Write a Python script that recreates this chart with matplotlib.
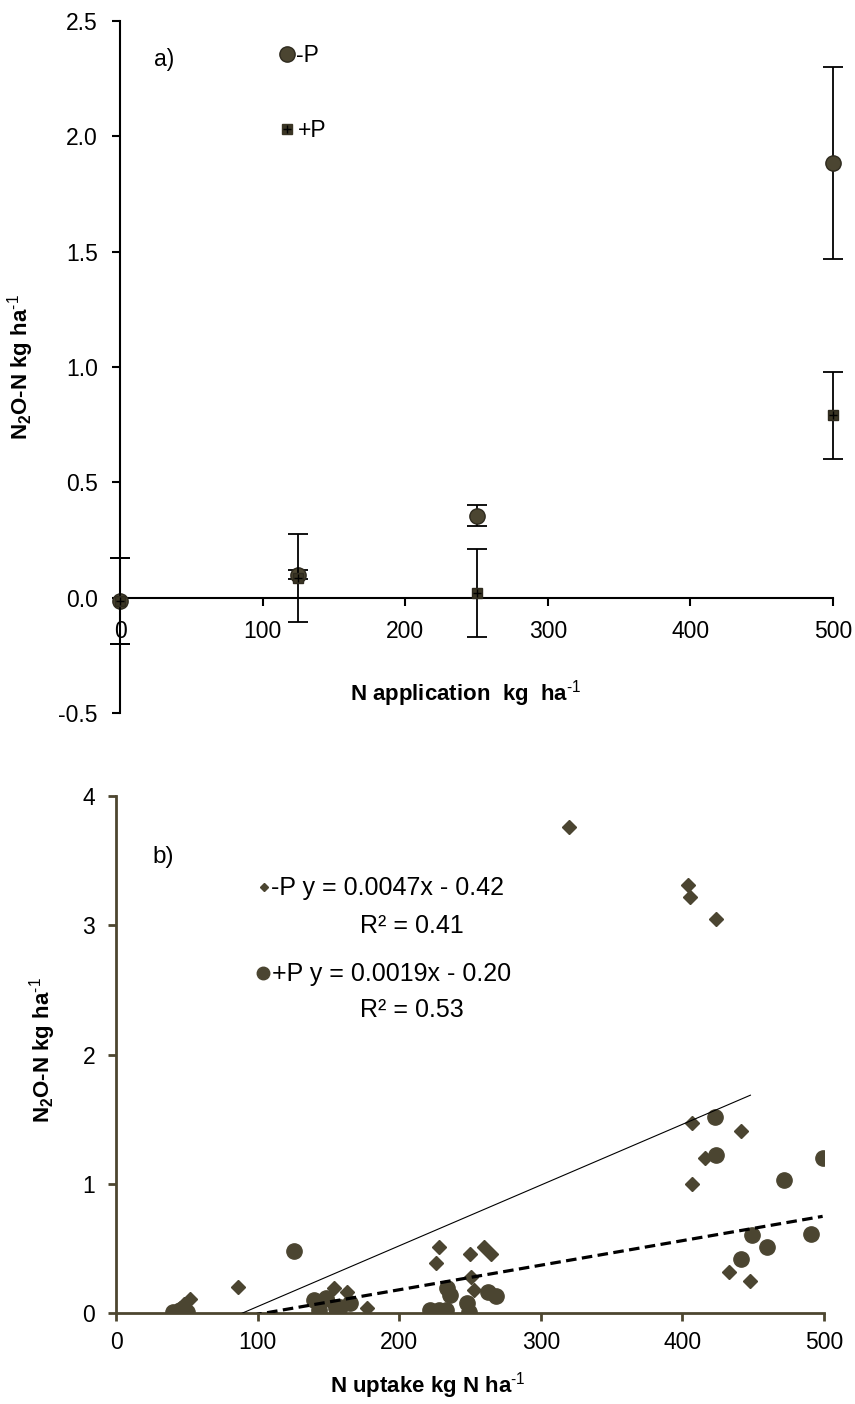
import numpy as np
import matplotlib
matplotlib.use('Agg')
from matplotlib import pyplot as plt

plt.rcParams['font.family'] = ['Liberation Sans', 'DejaVu Sans']
plt.rcParams['mathtext.fontset'] = 'custom'
plt.rcParams['mathtext.rm'] = 'Liberation Sans'
plt.rcParams['mathtext.default'] = 'regular'
plt.rcParams['axes.unicode_minus'] = False

# a) N application vs N2O-N, means and error bars
n_rate = [0, 125, 250, 500]
minusP_mean = [-0.015, 0.10, 0.355, 1.885]
minusP_err = [0.185, 0.02, 0.045, 0.415]
plusP_mean = [-0.015, 0.085, 0.02, 0.79]
plusP_err = [0.185, 0.19, 0.19, 0.19]

# b) N uptake vs N2O-N, individual plots
minusP_x = [42, 45, 48, 52, 86, 150, 154, 165, 163, 177, 226, 228, 250, 251, 253, 260, 265,
            320, 404, 405, 407, 407, 416, 424, 433, 441, 448]
minusP_y = [0.01, 0.04, 0.07, 0.11, 0.20, 0.10, 0.19, 0.08, 0.16, 0.04, 0.39, 0.51, 0.46, 0.28, 0.18, 0.51, 0.46,
            3.76, 3.31, 3.22, 1.47, 1.00, 1.20, 3.05, 0.32, 1.41, 0.25]
plusP_x = [40, 45, 50, 126, 140, 143, 148, 155, 158, 165, 222, 228, 233, 234, 236, 248, 249, 263, 268,
           423, 424, 441, 449, 460, 472, 491, 499]
plusP_y = [0.01, 0.02, 0.01, 0.48, 0.10, 0.02, 0.12, 0.04, 0.05, 0.08, 0.02, 0.02, 0.02, 0.19, 0.14, 0.08, 0.01, 0.16, 0.13,
           1.52, 1.22, 0.42, 0.60, 0.51, 1.03, 0.61, 1.20]
minusP_fit = (0.0047, -0.42, 0.41)
plusP_fit = (0.0019, -0.20, 0.53)

mcol = '#4b4531'
axcol = '#4d4630'
ylab = r'N$_2$O-N kg ha$^{\text{-1}}$'

fig = plt.figure(figsize=(8.55, 14.04), dpi=100)

# ---------- panel a ----------
ax1 = fig.add_axes([0.1404, 0.4922, 0.8339, 0.4929])
ax1.errorbar(n_rate, minusP_mean, yerr=minusP_err, fmt='o', ms=11, color=mcol, mec='#2e2a1e',
             ecolor='black', elinewidth=1.3, capsize=7, capthick=1.3, clip_on=False, zorder=3)
ax1.errorbar(n_rate, plusP_mean, yerr=plusP_err, fmt='s', ms=7.5, color='#3a3524', mec='#2e2a1e',
             ecolor='black', elinewidth=1.3, capsize=7, capthick=1.3, clip_on=False, zorder=4)
ax1.plot(n_rate, plusP_mean, '+', ms=6, mew=1, color='black', clip_on=False, zorder=5)

ax1.set_xlim(0, 500)
ax1.set_ylim(-0.5, 2.5)
ax1.set_xticks([0, 100, 200, 300, 400, 500])
ax1.set_yticks(np.arange(-0.5, 2.51, 0.5))
ax1.set_yticklabels(['%.1f' % v for v in np.arange(-0.5, 2.51, 0.5)])
ax1.spines['top'].set_visible(False)
ax1.spines['right'].set_visible(False)
ax1.spines['bottom'].set_position(('data', 0))
for s in ['left', 'bottom']:
    ax1.spines[s].set_linewidth(1.5)
ax1.tick_params(axis='both', direction='out', length=6, width=1.5, labelsize=16.5, colors='black')
ax1.tick_params(axis='y', pad=10)
ax1.tick_params(axis='x', pad=10)

ax1.set_ylabel(ylab, fontsize=16, fontweight='bold')
ax1.yaxis.set_label_coords(-0.118, 0.5)
ax1.set_xlabel(r'N application  kg  ha$^{\text{-1}}$', fontsize=16, fontweight='bold')
ax1.xaxis.set_label_coords(0.485, 0.05)

ax1.text(0.047, 0.944, 'a)', transform=ax1.transAxes, fontsize=16.5, va='center')
ax1.plot([0.234], [0.952], 'o', ms=11, color=mcol, mec='#2e2a1e', transform=ax1.transAxes, clip_on=False)
ax1.text(0.247, 0.950, '-P', transform=ax1.transAxes, fontsize=16.5, va='center')
ax1.plot([0.234], [0.844], 's', ms=7.5, color='#3a3524', transform=ax1.transAxes, clip_on=False)
ax1.plot([0.234], [0.844], '+', ms=6, mew=1, color='black', transform=ax1.transAxes, clip_on=False)
ax1.text(0.249, 0.842, '+P', transform=ax1.transAxes, fontsize=16.5, va='center')

# ---------- panel b ----------
ax2 = fig.add_axes([0.1357, 0.0648, 0.8281, 0.3682])
ax2.plot(minusP_x, minusP_y, 'D', ms=7.5, color=mcol, mec=mcol, linestyle='none', zorder=3)
ax2.plot(plusP_x, plusP_y, 'o', ms=11, color=mcol, mec=mcol, linestyle='none', zorder=3)

xm = np.array([min(minusP_x), max(minusP_x)])
ax2.plot(xm, minusP_fit[0] * xm + minusP_fit[1], '-', color='black', lw=0.8, zorder=4)
xp = np.array([min(plusP_x), max(plusP_x)])
ax2.plot(xp, plusP_fit[0] * xp + plusP_fit[1], '--', color='black', lw=2.3, dashes=(3.3, 1.7), zorder=4)

ax2.set_xlim(0, 500)
ax2.set_ylim(0, 4)
ax2.set_xticks([0, 100, 200, 300, 400, 500])
ax2.set_yticks([0, 1, 2, 3, 4])
ax2.spines['top'].set_visible(False)
ax2.spines['right'].set_visible(False)
for s in ['left', 'bottom']:
    ax2.spines[s].set_linewidth(2)
    ax2.spines[s].set_color(axcol)
ax2.tick_params(axis='both', direction='out', length=6, width=2, color=axcol, labelsize=16.5, labelcolor='black')
ax2.tick_params(axis='y', pad=9)
ax2.tick_params(axis='x', pad=7)

ax2.set_ylabel(ylab, fontsize=16, fontweight='bold')
ax2.yaxis.set_label_coords(-0.082, 0.509)
ax2.set_xlabel(r'N uptake kg N ha$^{\text{-1}}$', fontsize=16, fontweight='bold')
ax2.xaxis.set_label_coords(0.44, -0.11)

ax2.text(0.051, 0.882, 'b)', transform=ax2.transAxes, fontsize=17.5, va='center')
ax2.plot([0.209], [0.824], 'D', ms=4.5, color=mcol, transform=ax2.transAxes, clip_on=False)
ax2.text(0.219, 0.822, '-P y = %.4fx - %.2f' % (minusP_fit[0], -minusP_fit[1]), transform=ax2.transAxes,
         fontsize=18, va='center', ha='left')
ax2.text(0.418, 0.749, 'R² = %.2f' % minusP_fit[2], transform=ax2.transAxes, fontsize=18, va='center', ha='center')
ax2.plot([0.208], [0.658], 'o', ms=9, color=mcol, transform=ax2.transAxes, clip_on=False)
ax2.text(0.221, 0.655, '+P y = %.4fx - %.2f' % (plusP_fit[0], -plusP_fit[1]), transform=ax2.transAxes,
         fontsize=18, va='center', ha='left')
ax2.text(0.418, 0.586, 'R² = %.2f' % plusP_fit[2], transform=ax2.transAxes, fontsize=18, va='center', ha='center')

fig.savefig('out.png', dpi=100)
